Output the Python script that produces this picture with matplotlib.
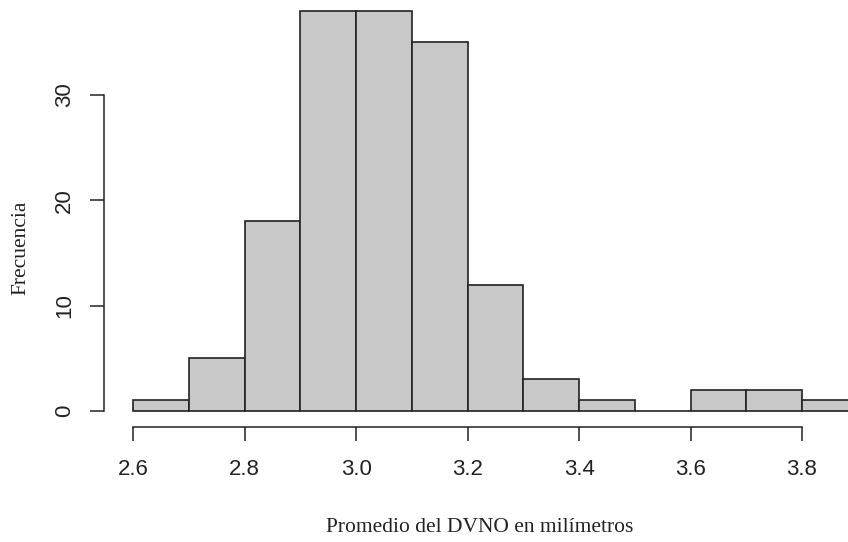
import matplotlib.pyplot as plt
import numpy as np

# histogram bins (left edges) and counts
bin_left = [2.6, 2.7, 2.8, 2.9, 3.0, 3.1, 3.2, 3.3, 3.4, 3.5, 3.6, 3.7, 3.8]
counts = [1, 5, 18, 38, 38, 35, 12, 3, 1, 0, 2, 2, 1]
xticks = [2.6, 2.8, 3.0, 3.2, 3.4, 3.6, 3.8]
xticklabels = ["2.6", "2.8", "3.0", "3.2", "3.4", "3.6", "3.8"]
yticks = [0, 10, 20, 30]

W, H = 848, 542
fig = plt.figure(figsize=(W / 100, H / 100), dpi=100)
ax = fig.add_axes([104 / W, (H - 427) / H, (W - 104) / W, 427 / H])

ax.bar(bin_left, counts, width=0.1, align="edge", color="#c8c8c8",
       edgecolor="#222222", linewidth=1.2, clip_on=True)

ax.set_xlim(2.6 - (133.3 - 104) / 557.2, 2.6 + (W - 133.3) / 557.2)
ax.set_ylim(-16 / 10.533, 411 / 10.533)

for s in ["top", "right"]:
    ax.spines[s].set_visible(False)
ax.spines["left"].set_bounds(0, 30)
ax.spines["bottom"].set_bounds(2.6, 3.8)
for s in ["left", "bottom"]:
    ax.spines[s].set_linewidth(1.1)
    ax.spines[s].set_color("#222222")

ax.set_xticks(xticks)
ax.set_xticklabels(xticklabels)
ax.set_yticks(yticks)
ax.set_yticklabels([str(v) for v in yticks], rotation=90, va="center")
ax.tick_params(axis="both", direction="out", length=10, width=1.1,
               color="#222222", labelsize=16, pad=13)
ax.tick_params(axis="y", pad=11)
for lab in ax.get_xticklabels() + ax.get_yticklabels():
    lab.set_fontfamily("Liberation Sans")
    lab.set_color("#222222")

fig.text(480 / W, (H - 527) / H, "Promedio del DVNO en milímetros",
         family="Liberation Serif", fontsize=15.5, ha="center", va="center",
         color="#222222")
fig.text(21 / W, (H - 248) / H, "Frecuencia", family="Liberation Serif",
         fontsize=15.5, rotation=90, ha="center", va="center", color="#222222")

fig.savefig("out.png", dpi=100)
